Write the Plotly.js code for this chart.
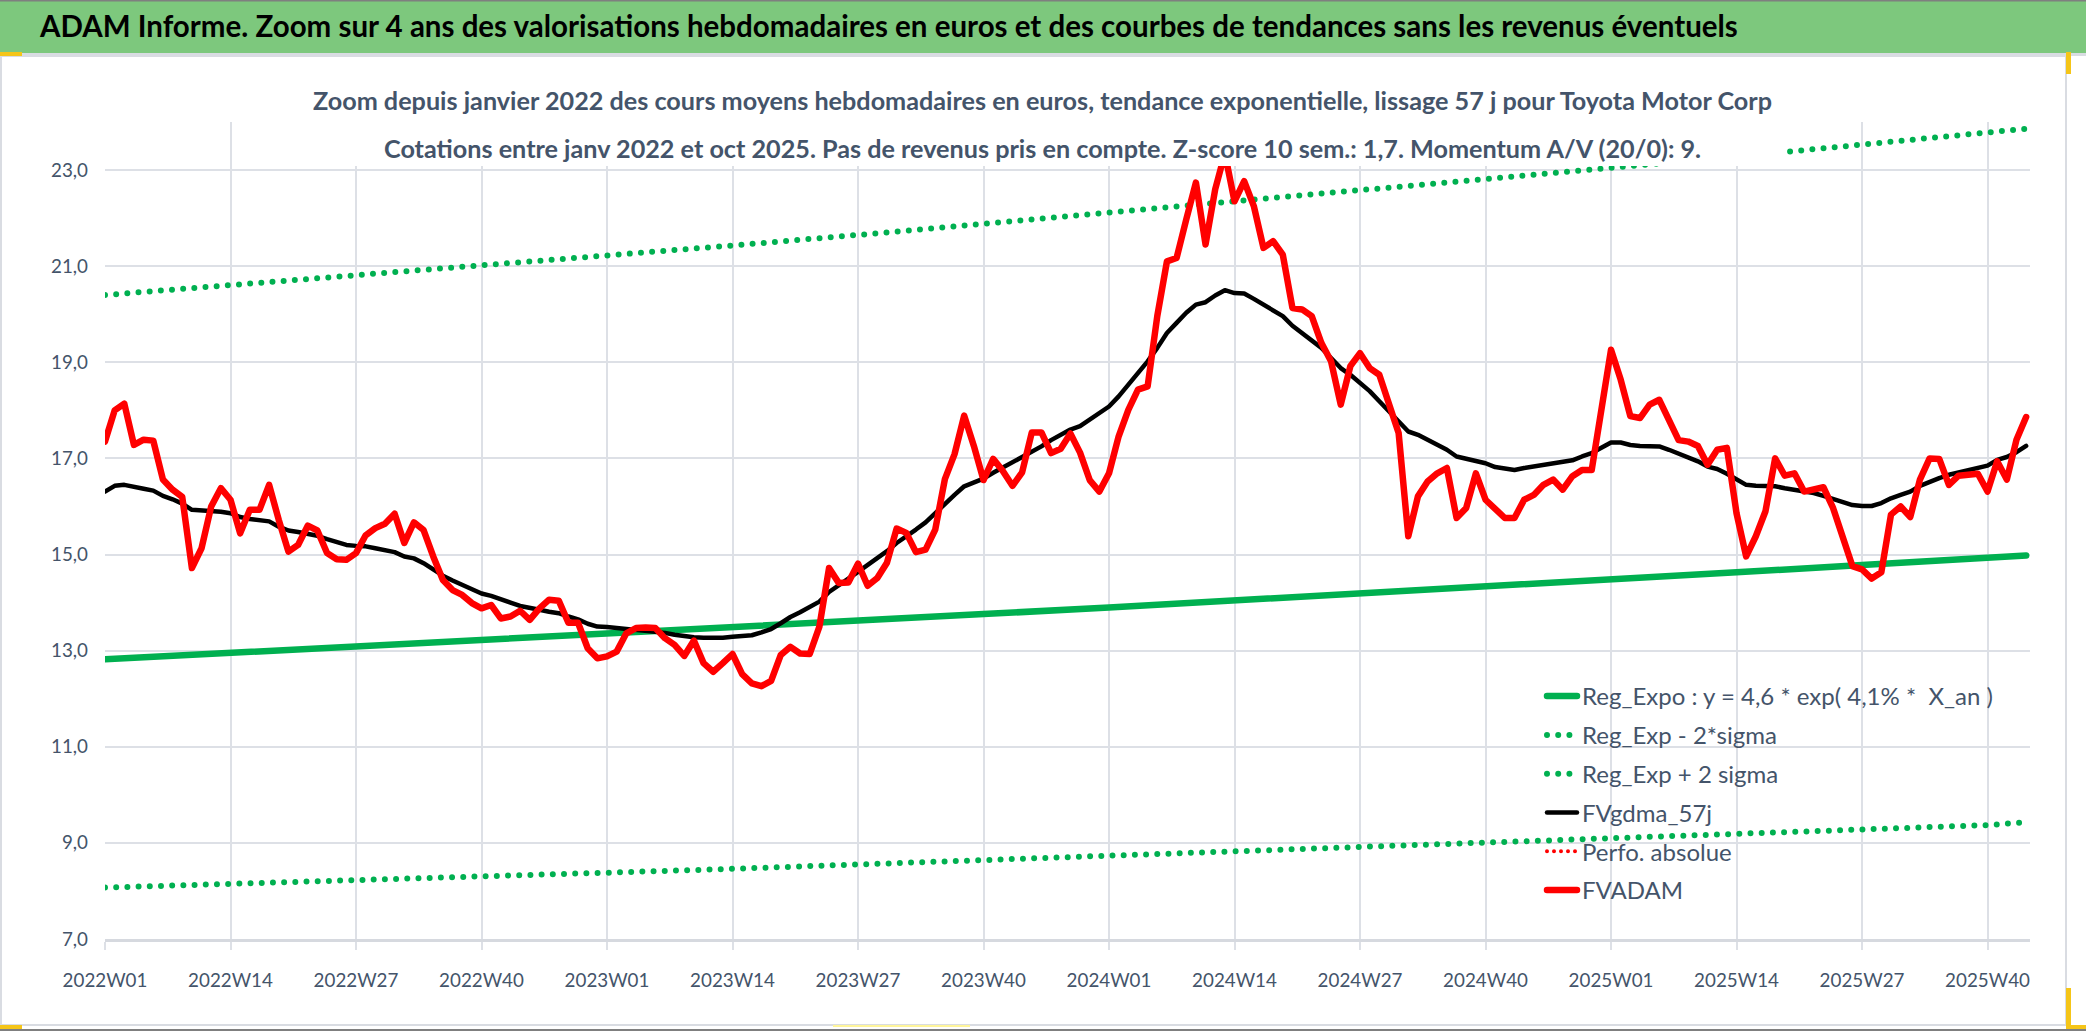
<!DOCTYPE html>
<html>
<head>
<meta charset="utf-8">
<script src="https://cdn.plot.ly/plotly-3.0.1.min.js"></script>
<style>
  html, body { margin: 0; padding: 0; background: #fff; }
  #plot { width: 2086px; height: 1031px; }
  /* Excel style: round ends and joins, dotted series become round dots */
  .js-line { stroke-linecap: round; stroke-linejoin: round; }
</style>
</head>
<body>
<div id="plot"></div>
<script>

// Weekly categories 2022W01 .. 2025W44
const weeks = [];
for (const [year, n] of [[2022, 52], [2023, 52], [2024, 52], [2025, 44]]) {
  for (let w = 1; w <= n; w++) weeks.push(year + 'W' + String(w).padStart(2, '0'));
}

const tickWeeks = ['2022W01', '2022W14', '2022W27', '2022W40', '2023W01', '2023W14', '2023W27', '2023W40',
  '2024W01', '2024W14', '2024W27', '2024W40', '2025W01', '2025W14', '2025W27', '2025W40'];
const trendWeeks = [...tickWeeks, '2025W44'];

// Trend curves read at each tick week (and the last week)
const regExpo = [12.82, 12.95, 13.08, 13.21, 13.35, 13.49, 13.62, 13.76, 13.90, 14.04, 14.19, 14.33, 14.48, 14.63, 14.78, 14.93, 14.98];
const regLow = [8.07, 8.14, 8.22, 8.30, 8.38, 8.46, 8.55, 8.63, 8.72, 8.81, 8.90, 8.99, 9.08, 9.18, 9.27, 9.37, 9.43];
const regHigh = [20.4, 20.6, 20.8, 21.0, 21.22, 21.43, 21.65, 21.88, 22.1, 22.33, 22.56, 22.8, 23.04, 23.28, 23.53, 23.78, 23.86];

// Perfo. absolue has no value in this zoom, it only shows in the legend
const perfoWeeks = ['2022W01'];
const perfoAbsolue = [null];

// FVgdma_57j (smoothed), one value per week
const fvgdma = [
  16.31, 16.43, 16.45, 16.40, 16.37, 16.33, 16.22, 16.15, 16.06, 15.93,
  15.92, 15.92, 15.89, 15.86, 15.78, 15.74, 15.72, 15.69, 15.58, 15.50,
  15.47, 15.43, 15.39, 15.32, 15.25, 15.20, 15.18, 15.17, 15.13, 15.08,
  15.05, 14.96, 14.92, 14.82, 14.68, 14.56, 14.46, 14.37, 14.28, 14.19,
  14.14, 14.06, 14.00, 13.93, 13.88, 13.85, 13.81, 13.78, 13.71, 13.65,
  13.56, 13.50, 13.49, 13.47, 13.46, 13.45, 13.43, 13.41, 13.37, 13.33,
  13.30, 13.28, 13.27, 13.26, 13.27, 13.29, 13.30, 13.32, 13.38, 13.45,
  13.57, 13.70, 13.80, 13.91, 14.02, 14.22, 14.37, 14.50, 14.64, 14.78,
  14.92, 15.07, 15.24, 15.37, 15.52, 15.67, 15.87, 16.06, 16.24, 16.42,
  16.50, 16.58, 16.70, 16.81, 16.90, 17.01, 17.12, 17.25, 17.38, 17.50,
  17.60, 17.67, 17.80, 17.93, 18.08, 18.29, 18.53, 18.78, 19.02, 19.30,
  19.61, 19.82, 20.03, 20.20, 20.25, 20.39, 20.50, 20.44, 20.43, 20.32,
  20.20, 20.10, 19.96, 19.76, 19.61, 19.47, 19.30, 19.09, 18.88, 18.74,
  18.58, 18.40, 18.19, 17.98, 17.80, 17.56, 17.49, 17.39, 17.28, 17.18,
  17.04, 16.99, 16.96, 16.90, 16.82, 16.78, 16.76, 16.80, 16.83, 16.87,
  16.90, 16.92, 16.96, 17.04, 17.11, 17.22, 17.33, 17.33, 17.28, 17.26,
  17.26, 17.25, 17.18, 17.10, 17.03, 16.94, 16.83, 16.78, 16.68, 16.56,
  16.45, 16.43, 16.43, 16.42, 16.38, 16.35, 16.31, 16.28, 16.22, 16.15,
  16.08, 16.03, 16.01, 16.01, 16.07, 16.17, 16.24, 16.31, 16.43, 16.52,
  16.59, 16.66, 16.71, 16.76, 16.80, 16.85, 16.97, 17.03, 17.13, 17.26
];

// FVADAM weekly average price in euros
const fvadam = [
  17.35, 18.00, 18.14, 17.28, 17.39, 17.37, 16.56, 16.35, 16.20, 14.72,
  15.13, 16.00, 16.38, 16.14, 15.44, 15.93, 15.93, 16.45, 15.72, 15.06,
  15.20, 15.60, 15.50, 15.03, 14.90, 14.89, 15.03, 15.40, 15.55, 15.64,
  15.85, 15.24, 15.67, 15.51, 14.96, 14.47, 14.26, 14.16, 13.99, 13.88,
  13.95, 13.67, 13.71, 13.83, 13.64, 13.88, 14.06, 14.04, 13.58, 13.58,
  13.05, 12.84, 12.88, 12.98, 13.36, 13.47, 13.48, 13.47, 13.26, 13.12,
  12.89, 13.21, 12.74, 12.56, 12.74, 12.93, 12.51, 12.32, 12.26, 12.37,
  12.91, 13.08, 12.94, 12.93, 13.50, 14.72, 14.41, 14.42, 14.81, 14.35,
  14.51, 14.83, 15.54, 15.45, 15.05, 15.10, 15.52, 16.57, 17.09, 17.89,
  17.26, 16.55, 16.99, 16.74, 16.43, 16.71, 17.54, 17.54, 17.11, 17.20,
  17.52, 17.12, 16.55, 16.31, 16.69, 17.46, 18.01, 18.43, 18.50, 19.96,
  21.10, 21.17, 21.97, 22.74, 21.45, 22.60, 23.35, 22.35, 22.77, 22.25,
  21.38, 21.52, 21.24, 20.13, 20.10, 19.96, 19.40, 19.02, 18.12, 18.92,
  19.19, 18.88, 18.74, 18.15, 17.53, 15.38, 16.21, 16.52, 16.69, 16.80,
  15.76, 15.97, 16.69, 16.14, 15.97, 15.76, 15.76, 16.14, 16.24, 16.45,
  16.56, 16.35, 16.63, 16.76, 16.76, 18.00, 19.26, 18.64, 17.88, 17.84,
  18.12, 18.22, 17.81, 17.38, 17.35, 17.26, 16.87, 17.18, 17.22, 15.86,
  14.96, 15.38, 15.90, 17.00, 16.64, 16.69, 16.31, 16.36, 16.40, 15.97,
  15.38, 14.76, 14.69, 14.50, 14.63, 15.83, 16.00, 15.78, 16.56, 17.00,
  16.99, 16.45, 16.64, 16.67, 16.68, 16.31, 16.94, 16.56, 17.39, 17.86
];

const yTicks = [7, 9, 11, 13, 15, 17, 19, 21, 23];

// Page geometry (pixels) and helpers to place decorations in paper coords
const W = 2086, H = 1031;
const L = 105, R = 2030, T = 122, B = 939;
const px = x => (x - L) / (R - L);
const py = y => (B - y) / (B - T);

const textColor = '#44546A';
const gridColor = '#DDE0E6';
const DOTS = '0px,11.2px';

const makeLine = (name, x, y, color, width, dash = 'solid') => ({
  x, y, name,
  type: 'scatter',
  mode: 'lines',
  line: { color, width, dash },
  legendgroup: name,
  hoverinfo: 'skip'
});

const traces = [
  makeLine('Reg_Expo : y = 4,6 * exp( 4,1% *  X_an )', trendWeeks, regExpo, '#00B050', 6.5),
  makeLine('Reg_Exp - 2*sigma', trendWeeks, regLow, '#00B050', 6, DOTS),
  makeLine('Reg_Exp + 2 sigma', trendWeeks, regHigh, '#00B050', 6, DOTS),
  makeLine('FVgdma_57j', weeks, fvgdma, '#000000', 4.5),
  makeLine('Perfo. absolue', perfoWeeks, perfoAbsolue, '#FF0000', 4, '0px,7px'),
  makeLine('FVADAM', weeks, fvadam, '#FF0000', 6.5)
];

const rect = (x0, y0, x1, y1, fill, layer = 'below', line = { width: 0 }) => ({
  type: 'rect', xref: 'paper', yref: 'paper',
  x0: px(x0), x1: px(x1), y0: py(y1), y1: py(y0),
  fillcolor: fill, line, layer
});

const shapes = [
  rect(0, 0, W, 53, '#7DC87D'),                          // title band
  rect(0, 53, W, 56, '#D9DCE2'),
  rect(1, 56, 2066, 1025, 'rgba(0,0,0,0)', 'below', { color: '#D9DCE2', width: 2 }),
  rect(0, 0, W, 1.5, '#7F7F7F'),
  rect(0, 1029, W, H, '#7F7F7F'),
  rect(300, 60, 1785, 166, '#FFFFFF', 'above'),         // subtitle box over the plot
  // selection handles left by Excel
  rect(0, 52, 22, 56, '#F5C518'),
  rect(0, 1025, 22, 1029, '#F5C518'),
  rect(2066, 52, 2071, 74, '#F5C518'),
  rect(2066, 988, 2071, 1029, '#F5C518'),
  rect(2066, 1025, W, 1029, '#F5C518'),
  rect(833, 1025, 970, 1027, '#FFF59A')
];

const subtitle = (text, y) => ({
  text: '<b>' + text + '</b>',
  xref: 'paper', yref: 'paper',
  x: px(1042), y: py(y),
  xanchor: 'center', yanchor: 'middle',
  showarrow: false,
  font: { family: 'Lato, sans-serif', size: 25.2, color: textColor }
});

const layout = {
  width: W,
  height: H,
  margin: { l: L, r: W - R, t: T, b: H - B },
  paper_bgcolor: '#FFFFFF',
  plot_bgcolor: 'rgba(0,0,0,0)',
  separators: ', ',
  font: { family: 'Lato, sans-serif', color: textColor },
  title: {
    text: '<b>ADAM Informe. Zoom sur 4 ans des valorisations hebdomadaires en euros et des courbes de tendances sans les revenus éventuels</b>',
    xref: 'container', yref: 'container',
    x: 40 / W, xanchor: 'left',
    y: 1 - 27 / H, yanchor: 'middle',
    font: { family: 'Lato, sans-serif', size: 29.5, color: '#000000' }
  },
  xaxis: {
    type: 'category',
    categoryorder: 'array',
    categoryarray: weeks,
    range: [0, 199.4],
    tickmode: 'array',
    tickvals: tickWeeks,
    ticktext: tickWeeks,
    tickangle: 0,
    ticks: 'outside',
    ticklen: 8,
    tickwidth: 2,
    tickcolor: gridColor,
    ticklabelstandoff: 14,
    showgrid: true,
    gridcolor: gridColor,
    gridwidth: 2,
    showline: true,
    linecolor: '#D6D9DF',
    linewidth: 3,
    zeroline: false,
    tickfont: { size: 18.8, color: textColor }
  },
  yaxis: {
    range: [7, 24],
    tickmode: 'array',
    tickvals: yTicks,
    tickformat: '.1f',
    ticks: '',
    ticklabelstandoff: 16,
    showgrid: true,
    gridcolor: gridColor,
    gridwidth: 2,
    zeroline: false,
    showline: false,
    tickfont: { size: 18.8, color: textColor }
  },
  showlegend: true,
  legend: {
    x: px(1542), y: py(674),
    xanchor: 'left', yanchor: 'top',
    bgcolor: 'rgba(0,0,0,0)',
    traceorder: 'grouped',
    tracegroupgap: 4.6,
    font: { family: 'Lato, sans-serif', size: 24, color: textColor }
  },
  shapes,
  annotations: [
    subtitle('Zoom depuis janvier 2022 des cours moyens hebdomadaires en euros, tendance exponentielle, lissage 57 j pour Toyota Motor Corp', 100),
    subtitle('Cotations entre janv 2022 et oct 2025. Pas de revenus pris en compte. Z-score 10 sem.: 1,7. Momentum A/V (20/0): 9.', 148)
  ],
  hovermode: false
};

Plotly.newPlot('plot', traces, layout, { displayModeBar: false, staticPlot: true });

</script>
</body>
</html>
